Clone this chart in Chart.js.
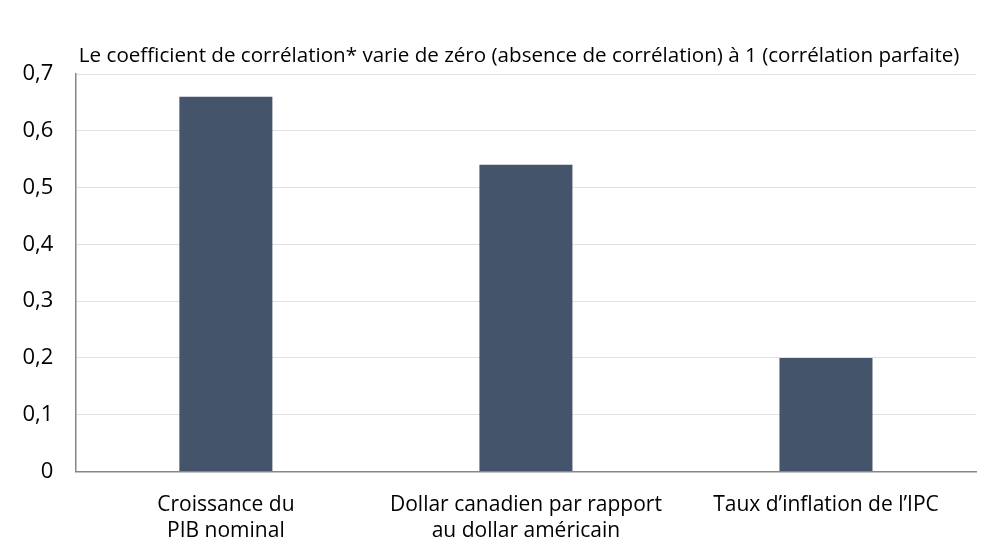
<!DOCTYPE html>
<html>
<head>
<meta charset="utf-8">
<script src="https://cdn.jsdelivr.net/npm/chart.js@4.4.1/dist/chart.umd.min.js"></script>
<style>
  html, body { margin: 0; padding: 0; background: #fff; }
  #wrap { width: 992px; height: 558px; }
</style>
</head>
<body>
<div id="wrap"><canvas id="chart"></canvas></div>
<script>
const categories = [
  ['Croissance du', 'PIB nominal'],
  ['Dollar canadien par rapport', 'au dollar américain'],
  'Taux d\u2019inflation de l\u2019IPC'
];
const correlations = [0.66, 0.54, 0.2];
const subtitle = 'Le coefficient de corrélation* varie de zéro (absence de corrélation) à 1 (corrélation parfaite)';

// draws the note at the left edge of the plot area
const notePlugin = {
  id: 'note',
  afterDraw(chart) {
    const ctx = chart.ctx;
    ctx.save();
    ctx.font = '20.6px "Open Sans", sans-serif';
    ctx.fillStyle = '#000';
    ctx.textBaseline = 'alphabetic';
    ctx.fillText(subtitle, chart.chartArea.left + 3, chart.chartArea.top - 12);
    ctx.restore();
  }
};

const ctx = document.getElementById('chart').getContext('2d');
const chart = new Chart(ctx, {
  type: 'bar',
  data: {
    labels: categories,
    datasets: [{
      data: correlations,
      backgroundColor: '#44546A',
      categoryPercentage: 1,
      barPercentage: 0.31
    }]
  },
  options: {
    responsive: true,
    maintainAspectRatio: false,
    animation: false,
    layout: { padding: { top: 74, right: 16, left: 0, bottom: 2 } },
    plugins: { legend: { display: false }, tooltip: { enabled: false } },
    scales: {
      x: {
        grid: { display: false },
        border: { color: '#868686', width: 1.5 },
        ticks: {
          color: '#000',
          font: { family: '"Open Sans", sans-serif', size: 21, lineHeight: 1.25 },
          padding: 12,
          maxRotation: 0
        }
      },
      y: {
        min: 0,
        max: 0.7,
        grid: { color: '#e0e0e0', drawTicks: false },
        border: { color: '#868686', width: 1.5 },
        ticks: {
          stepSize: 0.1,
          color: '#000',
          padding: 22.5,
          font: { family: '"Open Sans", sans-serif', size: 22 },
          callback: v => (Math.round(v * 10) / 10).toString().replace('.', ',')
        }
      }
    }
  },
  plugins: [notePlugin]
});
</script>
</body>
</html>
